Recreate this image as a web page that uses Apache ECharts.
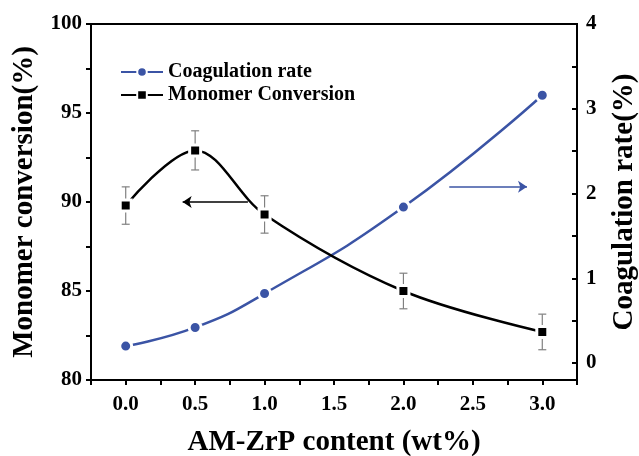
<!DOCTYPE html>
<html><head><meta charset="utf-8">
<script src="https://cdn.jsdelivr.net/npm/echarts@6/dist/echarts.min.js"></script>
<style>html,body{margin:0;padding:0;background:#fff}#c{width:639px;height:456px}</style>
</head><body><div id="c"></div>
<script>
const xValues = [0, 0.5, 1.0, 2.0, 3.0];
const monomerConversion = [89.8, 92.9, 89.3, 85.0, 82.7];
const monomerError = [1.05, 1.1, 1.05, 1.0, 1.0];
const coagulationRate = [0.20, 0.42, 0.82, 1.84, 3.16];
const leftTickLabels = [80, 85, 90, 95, 100];
const rightTickLabels = [0, 1, 2, 3, 4];
const rightMinorTicks = [0, 0.5, 1, 1.5, 2, 2.5, 3, 3.5, 4];
const xTickLabels = [0, 0.5, 1.0, 1.5, 2.0, 2.5, 3.0];
const blackArrow = [[0.88, 90], [0.41, 90]];
const blueArrow = [[2.33, 2.08], [2.89, 2.08]];

const FONT = '"Liberation Serif","Times New Roman",serif';
const BLUE = '#3b54a5';

const chart = echarts.init(document.getElementById('c'), null, {renderer: 'canvas'});
const convData = xValues.map((x, i) => [x, monomerConversion[i]]);
const errData = xValues.map((x, i) => [x, monomerConversion[i] - monomerError[i], monomerConversion[i] + monomerError[i]]);
const coagData = xValues.map((x, i) => [x, coagulationRate[i]]);

const option = {
  animation: false,
  backgroundColor: '#fff',
  grid: {left: 91, right: 62, top: 24, bottom: 76, containLabel: false, outerBoundsMode: 'none',
    show: true, borderColor: '#000', borderWidth: 2},
  legend: {
    data: ['Coagulation rate', 'Monomer Conversion'],
    orient: 'vertical', left: 120, top: 62, padding: 0, itemGap: 3, itemWidth: 42, itemHeight: 12, itemTextGap: 4,
    textStyle: {fontFamily: FONT, fontWeight: 'bold', fontSize: 20, color: '#000'}
  },
  xAxis: {
    type: 'value', min: -0.25, max: 3.25, interval: 0.25,
    name: 'AM-ZrP content (wt%)', nameLocation: 'middle', nameGap: 48,
    nameTextStyle: {fontFamily: FONT, fontWeight: 'bold', fontSize: 29, color: '#000'},
    axisLine: {onZero: false, lineStyle: {color: '#000', width: 2}},
    axisTick: {inside: false, length: 5, lineStyle: {color: '#000', width: 2}},
    axisLabel: {margin: 14, fontFamily: FONT, fontWeight: 'bold', fontSize: 21, color: '#000',
      formatter: v => xTickLabels.some(t => Math.abs(t - v) < 1e-9) ? v.toFixed(1) : ''},
    splitLine: {show: false}
  },
  yAxis: [{
    type: 'value', min: 80, max: 100, interval: 2.5, position: 'left',
    name: 'Monomer conversion(%)', nameLocation: 'middle', nameGap: 52, nameRotate: 90,
    nameTextStyle: {fontFamily: FONT, fontWeight: 'bold', fontSize: 29, color: '#000'},
    axisLine: {show: true, onZero: false, lineStyle: {color: '#000', width: 2}},
    axisTick: {show: true, inside: false, length: 5, lineStyle: {color: '#000', width: 2}},
    axisLabel: {margin: 9, fontFamily: FONT, fontWeight: 'bold', fontSize: 21, color: '#000',
      formatter: v => leftTickLabels.includes(v) ? String(v) : ''},
    splitLine: {show: false}
  }, {
    type: 'value', min: -0.2, max: 4, position: 'right',
    name: 'Coagulation rate(%)', nameLocation: 'middle', nameGap: 33, nameRotate: 90,
    nameTextStyle: {fontFamily: FONT, fontWeight: 'bold', fontSize: 29, color: '#000'},
    axisLine: {show: true, onZero: false, lineStyle: {color: '#000', width: 2}},
    axisTick: {show: true, inside: true, length: 5, customValues: rightMinorTicks, lineStyle: {color: '#000', width: 2}},
    axisLabel: {margin: 9, fontFamily: FONT, fontWeight: 'bold', fontSize: 21, color: '#000', customValues: rightTickLabels},
    splitLine: {show: false}
  }],
  series: [{
    type: 'custom', name: 'err', xAxisIndex: 0, yAxisIndex: 0, z: 1, silent: true,
    data: errData,
    renderItem: (params, api) => {
      const x = api.value(0);
      const lo = api.coord([x, api.value(1)]);
      const hi = api.coord([x, api.value(2)]);
      const st = {stroke: '#808080', lineWidth: 1.2};
      const w = 4;
      return {type: 'group', children: [
        {type: 'line', shape: {x1: lo[0], y1: lo[1], x2: hi[0], y2: hi[1]}, style: st},
        {type: 'line', shape: {x1: lo[0] - w, y1: lo[1], x2: lo[0] + w, y2: lo[1]}, style: st},
        {type: 'line', shape: {x1: hi[0] - w, y1: hi[1], x2: hi[0] + w, y2: hi[1]}, style: st}
      ]};
    }
  }, {
    type: 'line', name: 'Coagulation rate', yAxisIndex: 1, data: coagData, smooth: 0.5, z: 3,
    symbol: 'circle', symbolSize: 12,
    lineStyle: {color: BLUE, width: 2.5},
    itemStyle: {color: BLUE, borderColor: '#fff', borderWidth: 3},
    markLine: {silent: true, symbol: ['none', 'arrow'], symbolSize: 9,
      label: {show: false},
      lineStyle: {color: BLUE, width: 1.5, type: 'solid'},
      data: [[{coord: blueArrow[0]}, {coord: blueArrow[1]}]]}
  }, {
    type: 'line', name: 'Monomer Conversion', yAxisIndex: 0, data: convData, smooth: 0.35, z: 3,
    symbol: 'rect', symbolSize: 11,
    lineStyle: {color: '#000', width: 2.5},
    itemStyle: {color: '#000', borderColor: '#fff', borderWidth: 3},
    markLine: {silent: true, symbol: ['none', 'arrow'], symbolSize: 9,
      label: {show: false},
      lineStyle: {color: '#000', width: 1.5, type: 'solid'},
      data: [[{coord: blackArrow[0]}, {coord: blackArrow[1]}]]}
  }]
};
chart.setOption(option);
</script>
</body></html>
